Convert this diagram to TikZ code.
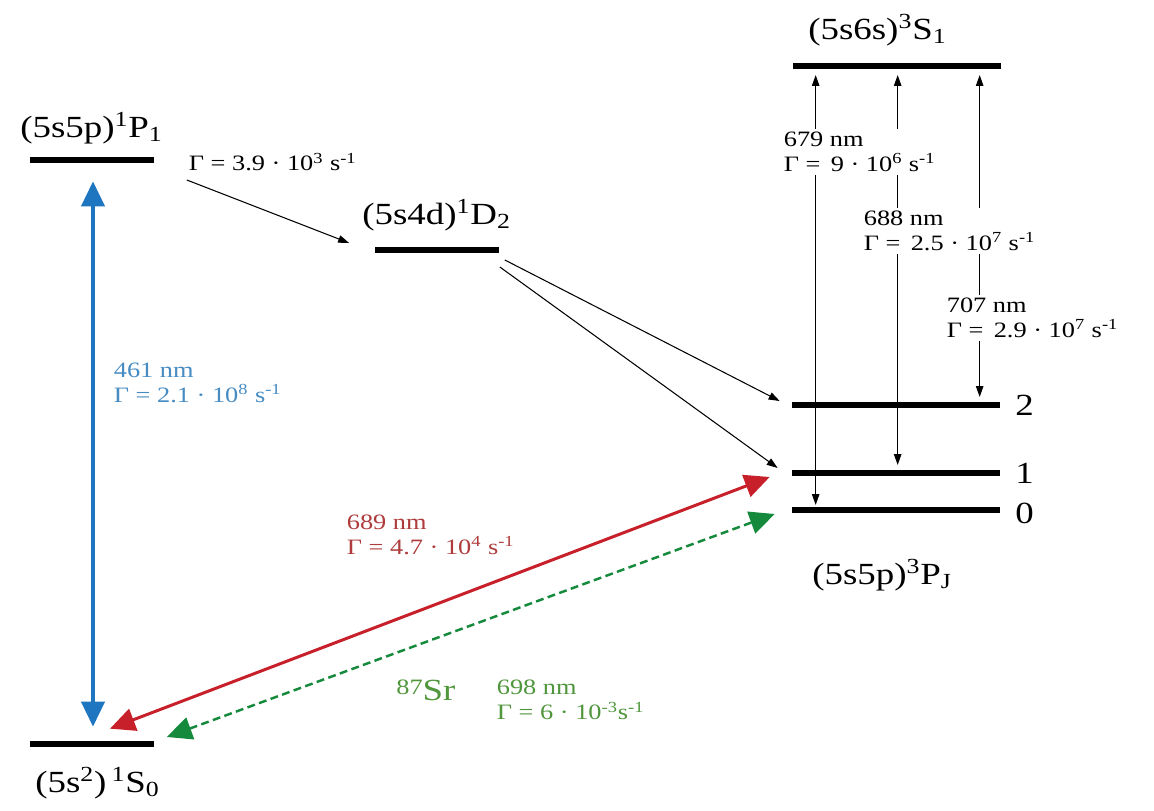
\documentclass[tikz,border=0pt]{standalone}
\usepackage{fontspec}
\setmainfont{Liberation Serif}[FakeStretch=1.2]
\usepackage{tikz}
\usetikzlibrary{arrows.meta}
\definecolor{blueline}{RGB}{30,118,192}
\definecolor{bluetext}{RGB}{70,140,195}
\definecolor{redline}{RGB}{200,32,42}
\definecolor{redtext}{RGB}{175,60,60}
\definecolor{greenline}{RGB}{22,138,60}
\definecolor{greentext}{RGB}{80,150,60}

\begin{document}
\begin{tikzpicture}[x=0.02cm, y=-0.02cm,
    level/.style={fill=black, inner sep=0pt, minimum height=3.4pt},
    shortlevel/.style={level, minimum width=2.5cm},
    longlevel/.style={level, minimum width=4.16cm},
    term/.style={font=\fontsize{17.5}{20}\selectfont, anchor=west, inner sep=0pt},
    rate/.style={font=\fontsize{12.5}{14.2}\selectfont, align=left, anchor=west,
                 fill=white, inner sep=2pt},
    decay/.style={-{Triangle[length=2.2mm,width=1.5mm]}, line width=0.6pt},
    pump/.style={{Triangle[length=2.2mm,width=1.5mm]}-{Triangle[length=2.2mm,width=1.5mm]},
                 line width=0.6pt},
    strong/.style={{Triangle[length=5mm,width=4.6mm]}-{Triangle[length=5mm,width=4.6mm]}}
]
\useasboundingbox (0,0) rectangle (1154,811);

\node[shortlevel] (P1)   at (92,160)  {};
\node[shortlevel] (D2)   at (437,250) {};
\node[longlevel]  (S1)   at (897,66)  {};
\node[longlevel]  (P2tr) at (896,405) {};
\node[longlevel]  (P1tr) at (896,473) {};
\node[longlevel]  (P0tr) at (896,510) {};
\node[shortlevel] (S0)   at (92,744)  {};

\node[term] (P1lab) at (20,128)  {(5s5p)\textsuperscript{1}P\textsubscript{1}};
\node[term] (D2lab) at (362,215) {(5s4d)\textsuperscript{1}D\textsubscript{2}};
\node[term] (S1lab) at (808,30)  {(5s6s)\textsuperscript{3}S\textsubscript{1}};
\node[term] (PJlab) at (812,575) {(5s5p)\textsuperscript{3}P\textsubscript{J}};
\node[term] (S0lab) at (35,783)  {(5s\textsuperscript{2})\,\textsuperscript{1}S\textsubscript{0}};
\node[term] (J2) at (1015,405) {2};
\node[term] (J1) at (1015,473) {1};
\node[term] (J0) at (1015,513) {0};

\draw[strong, blueline, line width=2.3pt] ([shift={(1,18)}]P1.south) -- ([shift={(1,-14)}]S0.north);
\draw[strong, redline, line width=1.7pt] ([shift={(18,-12)}]S0.north) -- ([shift={(-22,4)}]P1tr.west);
\draw[strong, greenline, line width=1.4pt, dash pattern=on 4.5pt off 2.5pt]
     ([shift={(12,-7)}]S0.east) -- ([shift={(-17,4)}]P0tr.west);

\draw[decay] ([shift={(32,20)}]P1.east) -- ([shift={(-25,-7)}]D2.west);
\draw[decay] ([shift={(5,10)}]D2.east) -- ([shift={(-12,-4)}]P2tr.west);
\draw[decay] ([shift={(0,17)}]D2.east) -- ([shift={(-14,-5)}]P1tr.west);

\draw[pump] ([shift={(23,9)}]S1.west)  -- ([shift={(24,-5)}]P0tr.west);
\draw[pump] ([shift={(105,9)}]S1.west) -- ([shift={(106,-8)}]P1tr.west);
\draw[pump] ([shift={(187,9)}]S1.west) -- ([shift={(188,-8)}]P2tr.west);

\node[rate] (r679) at (780,152) {679 nm\\Γ = \,9 · 10\textsuperscript{6} s\textsuperscript{-1}};
\node[rate] (r688) at (860,231) {688 nm\\Γ = \,2.5 · 10\textsuperscript{7} s\textsuperscript{-1}};
\node[rate] (r707) at (943,318) {707 nm\\Γ = \,2.9 · 10\textsuperscript{7} s\textsuperscript{-1}};
\node[rate] (r39)  at (185,162) {Γ = 3.9 · 10\textsuperscript{3} s\textsuperscript{-1}};
\node[rate, text=bluetext] (r461) at (110,383)
     {461 nm\\Γ = 2.1 · 10\textsuperscript{8} s\textsuperscript{-1}};
\node[rate, text=redtext] (r689) at (343,535)
     {689 nm\\Γ = 4.7 · 10\textsuperscript{4} s\textsuperscript{-1}};
\node[rate, text=greentext] (r698) at (493,700)
     {698 nm\\Γ = 6 · 10\textsuperscript{-3}s\textsuperscript{-1}};
\node[term, text=greentext] (iso) at (396,690)
     {\fontsize{12.5}{14}\selectfont\raisebox{0.6ex}{87}\fontsize{17.5}{20}\selectfont Sr};
\end{tikzpicture}
\end{document}
